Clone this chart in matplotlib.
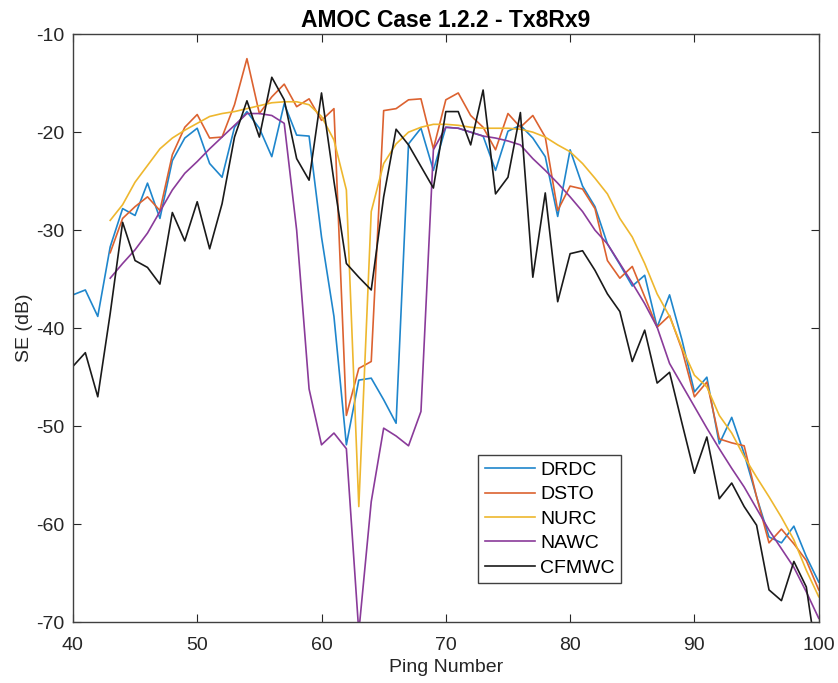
import numpy as np
import matplotlib
matplotlib.use('Agg')
import matplotlib.pyplot as plt

plt.rcParams['font.family'] = ['Liberation Sans', 'DejaVu Sans']
plt.rcParams['axes.unicode_minus'] = False

# ping numbers
ping_drdc = np.arange(40, 101)
drdc = [-36.6, -36.1, -38.8, -31.7, -27.8, -28.5, -25.2, -28.8, -22.9, -20.6,
        -19.6, -23.2, -24.6, -19.5, -17.9, -19.6, -22.5, -17.1, -20.3, -20.4,
        -30.7, -38.8, -51.9, -45.3, -45.1, -47.3, -49.7, -21.2, -19.6, -23.9,
        -19.5, -19.6, -20.0, -20.4, -23.9, -19.9, -19.3, -20.6, -22.5, -28.6,
        -21.8, -25.5, -27.6, -31.4, -33.5, -35.7, -34.6, -39.9, -36.6, -41.2,
        -46.5, -45.0, -51.8, -49.1, -52.8, -57.2, -61.3, -61.9, -60.2, -63.3,
        -65.9]

ping_dsto = np.arange(43, 101)
dsto = [-32.3, -28.8, -27.6, -26.6, -28.0, -22.3, -19.5, -18.2, -20.6, -20.5,
        -17.2, -12.5, -18.1, -16.4, -15.1, -17.4, -16.6, -18.8, -17.6, -48.9,
        -44.1, -43.4, -17.8, -17.6, -16.7, -16.6, -21.7, -16.7, -16.0, -18.3,
        -19.5, -21.8, -18.1, -19.5, -18.3, -20.5, -28.0, -25.5, -25.8, -27.8,
        -33.1, -34.9, -33.7, -36.8, -39.9, -38.7, -42.2, -47.0, -45.5, -51.3,
        -51.7, -52.0, -57.2, -61.9, -60.5, -62.0, -63.7, -66.7]

ping_nurc = np.arange(43, 101)
nurc = [-29.0, -27.4, -25.1, -23.4, -21.7, -20.6, -19.8, -19.1, -18.4, -18.1,
        -17.9, -17.6, -17.3, -17.0, -16.9, -16.9, -17.2, -18.4, -20.8, -25.9,
        -58.2, -28.1, -23.2, -21.2, -20.0, -19.5, -19.2, -19.2, -19.3, -19.5,
        -19.6, -19.6, -19.6, -19.7, -20.0, -20.5, -21.3, -22.0, -23.2, -24.7,
        -26.3, -28.8, -30.7, -33.4, -36.5, -38.8, -42.0, -44.8, -46.0, -48.9,
        -50.7, -53.1, -55.2, -57.2, -59.3, -61.6, -64.7, -67.4]

ping_nawc = np.arange(43, 101)
nawc = [-34.9, -33.4, -32.0, -30.3, -28.1, -25.9, -24.2, -23.0, -21.7, -20.5,
        -19.3, -18.1, -18.1, -18.3, -19.1, -30.0, -46.2, -51.9, -50.7, -52.3,
        -71.0, -57.7, -50.2, -51.0, -52.0, -48.5, -21.8, -19.5, -19.6, -20.0,
        -20.4, -20.6, -20.9, -21.3, -22.7, -23.9, -25.2, -26.6, -28.1, -30.0,
        -31.4, -33.4, -35.4, -37.5, -39.9, -43.6, -45.8, -48.0, -50.2, -52.3,
        -54.3, -56.2, -58.4, -60.6, -62.5, -64.4, -66.9, -69.6]

ping_cfmwc = np.arange(40, 101)
cfmwc = [-43.9, -42.5, -47.0, -38.5, -29.2, -33.1, -33.8, -35.5, -28.2, -31.1,
         -27.1, -31.9, -27.3, -20.5, -16.8, -20.5, -14.4, -16.7, -22.7, -24.9,
         -16.0, -25.0, -33.4, -34.8, -36.1, -26.6, -19.7, -21.3, -23.5, -25.7,
         -17.9, -17.9, -21.3, -15.7, -26.3, -24.6, -18.0, -34.8, -26.2, -37.3,
         -32.4, -32.1, -34.1, -36.5, -38.3, -43.4, -40.2, -45.6, -44.5, -49.7,
         -54.8, -51.1, -57.4, -55.8, -58.2, -60.1, -66.7, -67.8, -63.8, -66.4,
         -75.0]

fig = plt.figure(figsize=(8.38, 6.83), dpi=100)
ax = fig.add_axes([0.087, 0.089, 0.890, 0.861])

ax.plot(ping_drdc, drdc, color='#1f86cc', lw=1.2, label='DRDC')
ax.plot(ping_dsto, dsto, color='#dc6230', lw=1.2, label='DSTO')
ax.plot(ping_nurc, nurc, color='#eeb72e', lw=1.2, label='NURC')
ax.plot(ping_nawc, nawc, color='#8a3b9a', lw=1.2, label='NAWC')
ax.plot(ping_cfmwc, cfmwc, color='#1a1a1a', lw=1.2, label='CFMWC')

ax.set_xlim(40, 100)
ax.set_ylim(-70, -10)
ax.set_xticks(range(40, 101, 10))
ax.set_yticks(range(-70, -9, 10))
ax.tick_params(direction='in', top=True, right=True, labelsize=14,
               colors='#262626', length=6, width=0.8, pad=6)
ax.tick_params(axis='x', pad=11)
for s in ax.spines.values():
    s.set_color('#404040')
    s.set_linewidth(1.0)

ax.set_title('AMOC Case 1.2.2 - Tx8Rx9', fontsize=16.5, fontweight='bold', pad=5)
ax.set_xlabel('Ping Number', fontsize=14, color='#262626', labelpad=3)
ax.set_ylabel('SE (dB)', fontsize=14, color='#262626', labelpad=2)

leg = ax.legend(loc='lower left', bbox_to_anchor=(0.543, 0.066), fontsize=14,
                fancybox=False, framealpha=1, edgecolor='#404040',
                handlelength=2.6, handletextpad=0.25, borderpad=0.35,
                labelspacing=0.35, borderaxespad=0)
leg.get_frame().set_linewidth(1.0)

fig.savefig('out.png', dpi=100)
